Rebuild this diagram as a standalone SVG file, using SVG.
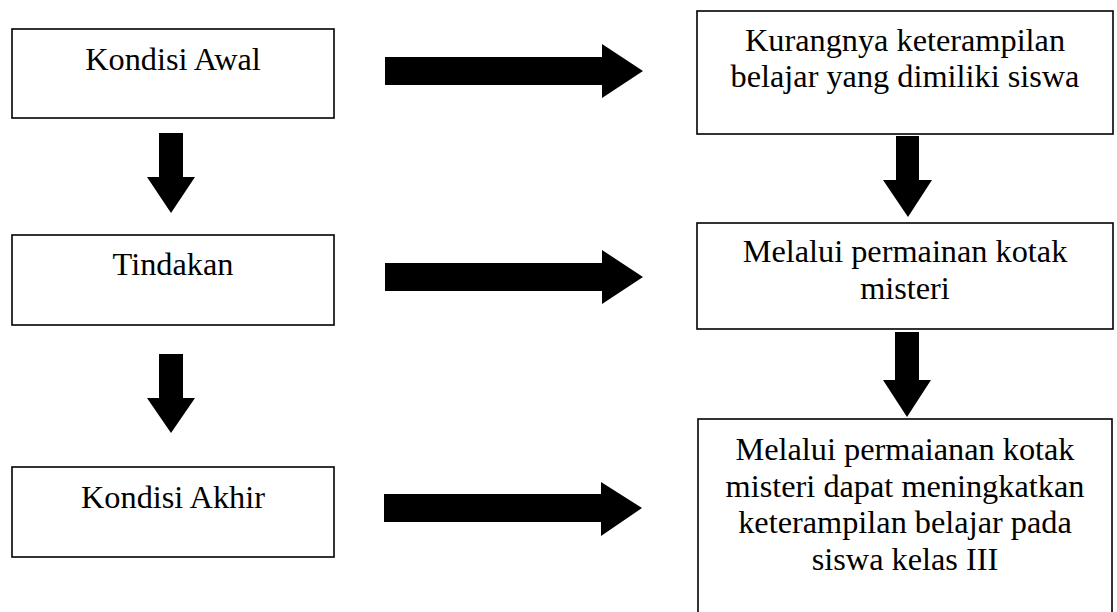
<svg xmlns="http://www.w3.org/2000/svg" width="1117" height="612" viewBox="0 0 1117 612">
<style>
.box{fill:#fff;stroke:#000;stroke-width:1.6}
.t{font-family:"Liberation Serif","Times New Roman",serif;font-size:32.3px;fill:#000;text-anchor:middle}
.arr{fill:#000;stroke:none}
</style>
<rect width="1117" height="612" fill="#fff"/>
<g id="connectors">
<polygon class="arr" points="159,133 183,133 183,177 195,177 171,213 147,177 159,177"/>
<polygon class="arr" points="159,354 183,354 183,398 195,398 171,433 147,398 159,398"/>
<polygon class="arr" points="896,136 919,136 919,180 932,180 908,217 883,180 896,180"/>
<polygon class="arr" points="895,332 919,332 919,380 931,380 907,417 883,380 895,380"/>
<polygon class="arr" points="385,57 602,57 602,44 643,71 602,98 602,85 385,85"/>
<polygon class="arr" points="385,263 602,263 602,250 643,277 602,304 602,291 385,291"/>
<polygon class="arr" points="384,494 601,494 601,482 642,508 601,536 601,522 384,522"/>
</g>
<g id="kondisi-awal">
<rect class="box" x="12" y="29" width="322" height="89"/>
<text class="t" x="173" y="70">Kondisi Awal</text>
</g>
<g id="tindakan">
<rect class="box" x="12" y="235" width="322" height="90"/>
<text class="t" x="173" y="275">Tindakan</text>
</g>
<g id="kondisi-akhir">
<rect class="box" x="12" y="467" width="322" height="90"/>
<text class="t" x="173" y="508">Kondisi Akhir</text>
</g>
<g id="kurangnya">
<rect class="box" x="697" y="11" width="416" height="123"/>
<text class="t" x="905" y="51">Kurangnya keterampilan</text>
<text class="t" x="905" y="87">belajar yang dimiliki siswa</text>
</g>
<g id="melalui">
<rect class="box" x="697" y="223" width="416" height="106"/>
<text class="t" x="905" y="262">Melalui permainan kotak</text>
<text class="t" x="905" y="299">misteri</text>
</g>
<g id="hasil">
<rect class="box" x="698" y="419" width="414" height="220"/>
<text class="t" x="905" y="460">Melalui permaianan kotak</text>
<text class="t" x="905" y="497">misteri dapat meningkatkan</text>
<text class="t" x="905" y="533">keterampilan belajar pada</text>
<text class="t" x="905" y="570">siswa kelas III</text>
</g>
</svg>
